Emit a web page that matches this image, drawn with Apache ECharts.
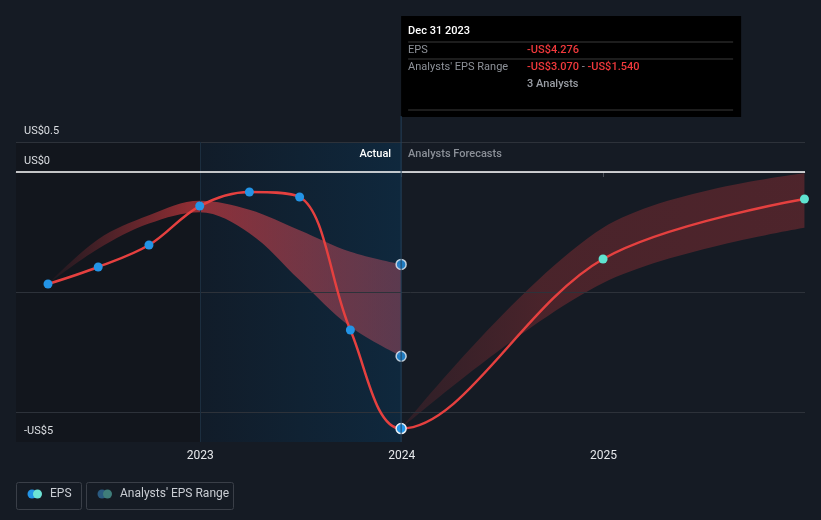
<!DOCTYPE html>
<html>
<head>
<meta charset="utf-8">
<script src="https://cdn.jsdelivr.net/npm/echarts@6/dist/echarts.min.js"></script>
<style>
  html, body { margin: 0; background: #151b24; }
  #chart { width: 821px; height: 520px; }
</style>
</head>
<body>
<div id="chart"></div>
<script>
// values
const actualDates = ['2022-03-31', '2022-06-30', '2022-09-30', '2022-12-31', '2023-03-31', '2023-06-30', '2023-09-30', '2023-12-31'];
const actualEps = [-1.867, -1.583, -1.217, -0.567, -0.333, -0.417, -2.633, -4.276];
const forecastDates = ['2024-12-31', '2025-12-31'];
const forecastEps = [-1.45, -0.45];

const pastRangeLow = [-1.867, -1.28, -0.86, -0.67, -1.02, -1.8, -2.58, -3.07];
const pastRangeHigh = [-1.867, -1.12, -0.72, -0.48, -0.63, -0.97, -1.33, -1.54];

const futureRangeDates = ['2023-12-31', '2024-12-31', '2025-12-31'];
const futureRangeLow = [-4.276, -1.85, -0.93];
const futureRangeHigh = [-4.276, -0.93, -0.02];

const yTickValues = [0.5, 0, -4.5];
const yTickLabels = ['US$0.5', 'US$0', '-US$5'];
const yearTicks = ['2023-01-01', '2024-01-01', '2025-01-01'];
const xMin = '2022-02-01';
const xMax = '2026-01-01';

const parse = d => echarts.time.parse(d).getTime();
const FONT = 'Roboto';
const SMOOTH = 0.35;

const chart = echarts.init(document.getElementById('chart'));

const lastActual = actualDates.length - 1;
const epsData = actualDates.map((d, i) => {
    const item = { value: [d, actualEps[i]], itemStyle: { color: '#2394e6' } };
    if (i === lastActual) {
        item.symbolSize = 10;
        item.itemStyle = { color: '#2394e6', borderColor: '#e8eef4', borderWidth: 1.5 };
    }
    return item;
}).concat(forecastDates.map((d, i) => ({ value: [d, forecastEps[i]], itemStyle: { color: '#5fe3d0' } })));

const option = {
    backgroundColor: '#151b24',
    animation: false,
    textStyle: { fontFamily: FONT },
    grid: { left: 16, right: 16, top: 142, bottom: 78 },
    xAxis: {
        type: 'time',
        min: parse(xMin),
        max: parse(xMax),
        axisLine: { lineStyle: { color: '#3a3f48', width: 1 } },
        axisTick: { show: true, customValues: yearTicks.map(parse), length: 5, lineStyle: { color: '#4a4f58' } },
        axisLabel: {
            customValues: yearTicks.map(parse),
            formatter: '{yyyy}',
            color: '#e6e8eb',
            fontSize: 12,
            fontFamily: FONT,
            margin: 8
        },
        splitLine: { show: false }
    },
    yAxis: {
        type: 'value',
        z: 10,
        min: -4.5,
        max: 0.5,
        axisLine: { show: false },
        axisTick: { show: false },
        splitLine: { show: false },
        axisLabel: {
            inside: true,
            customValues: yTickValues,
            formatter: v => {
                const i = yTickValues.findIndex(t => Math.abs(t - v) < 1e-9);
                return i >= 0 ? yTickLabels[i] : '';
            },
            verticalAlign: 'bottom',
            padding: [0, 0, 5, 0],
            margin: 8,
            color: '#dcdfe3',
            fontSize: 11,
            fontFamily: FONT
        }
    },
    series: [
        {
            // background regions + grid lines
            name: 'bg',
            type: 'line',
            z: 1,
            silent: true,
            data: actualDates.map((d, i) => [d, actualEps[i]]),
            symbol: 'none',
            lineStyle: { opacity: 0 },
            markArea: {
                silent: true,
                data: [
                    [{ xAxis: parse(xMin), itemStyle: { color: '#12161d' } }, { xAxis: parse('2023-01-01') }],
                    [{
                        xAxis: parse('2023-01-01'),
                        itemStyle: {
                            color: new echarts.graphic.LinearGradient(0, 0, 1, 0, [
                                { offset: 0, color: '#111c29' },
                                { offset: 1, color: '#0f283d' }
                            ])
                        }
                    }, { xAxis: parse('2023-12-31') }]
                ]
            },
            markLine: {
                silent: true,
                symbol: 'none',
                label: { show: false },
                lineStyle: { color: '#2d323a', type: 'solid', width: 1 },
                data: [
                    { yAxis: 0.5 },
                    { yAxis: -2 },
                    { yAxis: -4 },
                    { xAxis: parse('2023-01-01'), lineStyle: { color: '#1c2e3f' } }
                ]
            }
        },
        {
            name: 'pastLow',
            type: 'line',
            z: 2,
            stack: 'past',
            stackStrategy: 'all',
            smooth: SMOOTH,
            symbol: 'none',
            silent: true,
            lineStyle: { opacity: 0 },
            data: actualDates.map((d, i) => [d, pastRangeLow[i]])
        },
        {
            name: 'pastBand',
            type: 'line',
            z: 2,
            stack: 'past',
            stackStrategy: 'all',
            smooth: SMOOTH,
            symbol: 'none',
            silent: true,
            lineStyle: { opacity: 0 },
            areaStyle: {
                opacity: 1,
                color: new echarts.graphic.LinearGradient(0, 0, 1, 0, [
                    { offset: 0, color: 'rgba(220,60,65,0.05)' },
                    { offset: 0.4, color: 'rgba(220,60,65,0.62)' },
                    { offset: 1, color: 'rgba(205,85,105,0.4)' }
                ])
            },
            data: actualDates.map((d, i) => [d, +(pastRangeHigh[i] - pastRangeLow[i]).toFixed(3)])
        },
        {
            name: 'futureLow',
            type: 'line',
            z: 2,
            stack: 'future',
            stackStrategy: 'all',
            smooth: SMOOTH,
            symbol: 'none',
            silent: true,
            lineStyle: { opacity: 0 },
            data: futureRangeDates.map((d, i) => [d, futureRangeLow[i]])
        },
        {
            name: 'futureBand',
            type: 'line',
            z: 2,
            stack: 'future',
            stackStrategy: 'all',
            smooth: SMOOTH,
            symbol: 'none',
            silent: true,
            lineStyle: { opacity: 0 },
            areaStyle: {
                opacity: 1,
                color: new echarts.graphic.LinearGradient(0, 0, 1, 0, [
                    { offset: 0, color: 'rgba(225,60,62,0.12)' },
                    { offset: 0.35, color: 'rgba(225,60,62,0.26)' },
                    { offset: 1, color: 'rgba(225,60,62,0.28)' }
                ])
            },
            data: futureRangeDates.map((d, i) => [d, +(futureRangeHigh[i] - futureRangeLow[i]).toFixed(3)])
        },
        {
            name: 'zero',
            type: 'line',
            z: 3,
            silent: true,
            data: [],
            markLine: {
                silent: true,
                symbol: 'none',
                label: { show: false },
                lineStyle: { color: '#ffffff', type: 'solid', width: 1.5 },
                data: [{ yAxis: 0 }]
            }
        },
        {
            name: 'EPS',
            type: 'line',
            z: 5,
            smooth: SMOOTH,
            symbol: 'circle',
            symbolSize: 9,
            showAllSymbol: true,
            lineStyle: { color: '#e5403f', width: 2.5 },
            data: epsData
        },
        {
            name: 'rangeEnds',
            type: 'scatter',
            z: 6,
            symbolSize: 10,
            itemStyle: { color: '#2394e6', borderColor: '#e8eef4', borderWidth: 1.5 },
            data: [
                [actualDates[lastActual], pastRangeHigh[lastActual]],
                [actualDates[lastActual], pastRangeLow[lastActual]]
            ]
        }
    ]
};

chart.setOption(option);

// annotations: hover line, tooltip box, Actual / Forecast labels, legend
const [xLine, yTop] = chart.convertToPixel({ gridIndex: 0 }, [parse('2023-12-31'), 0.5]);
const yBottom = chart.convertToPixel({ gridIndex: 0 }, [parse('2023-12-31'), -4.5])[1];
const boxX = xLine;
const tipTop = 16;
const grey = '#8e9299';
const red = '#f0393c';

chart.setOption({
    graphic: [
        {
            type: 'line', z: 10, silent: true,
            shape: { x1: xLine, y1: tipTop + 100, x2: xLine, y2: yBottom },
            style: { stroke: '#23405a', lineWidth: 1 }
        },
        {
            type: 'text', z: 10, silent: true,
            style: { text: 'Actual', x: xLine - 10, y: yTop + 12, align: 'right', verticalAlign: 'middle',
                fill: '#ffffff', font: '500 11px Roboto' }
        },
        {
            type: 'text', z: 10, silent: true,
            style: { text: 'Analysts Forecasts', x: xLine + 7, y: yTop + 12, align: 'left', verticalAlign: 'middle',
                fill: '#8b9098', font: '500 11px Roboto' }
        },
        {
            type: 'group', z: 20, silent: true,
            children: [
                { type: 'rect', shape: { x: boxX, y: tipTop, width: 340, height: 101 }, style: { fill: '#000000' } },
                { type: 'text', style: { text: 'Dec 31 2023', x: boxX + 7, y: tipTop + 15, verticalAlign: 'middle', fill: '#ffffff', font: '500 11px Roboto' } },
                { type: 'line', shape: { x1: boxX + 7, y1: tipTop + 26, x2: boxX + 332, y2: tipTop + 26 }, style: { stroke: '#3b3b3b', lineWidth: 1 } },
                { type: 'text', style: { text: 'EPS', x: boxX + 7, y: tipTop + 34, verticalAlign: 'middle', fill: grey, font: '11px Roboto' } },
                { type: 'text', style: { text: '-US$4.276', x: boxX + 126, y: tipTop + 34, verticalAlign: 'middle', fill: red, font: '500 11px Roboto' } },
                { type: 'line', shape: { x1: boxX + 7, y1: tipTop + 43, x2: boxX + 332, y2: tipTop + 43 }, style: { stroke: '#3b3b3b', lineWidth: 1 } },
                { type: 'text', style: { text: "Analysts' EPS Range", x: boxX + 7, y: tipTop + 51, verticalAlign: 'middle', fill: grey, font: '11px Roboto' } },
                {
                    type: 'text',
                    style: {
                        text: '{r|-US$3.070}{g| - }{r|-US$1.540}', x: boxX + 126, y: tipTop + 51, verticalAlign: 'middle',
                        rich: {
                            r: { fill: red, fontFamily: FONT, fontSize: 11, fontWeight: 500 },
                            g: { fill: grey, fontFamily: FONT, fontSize: 11 }
                        }
                    }
                },
                { type: 'text', style: { text: '3 Analysts', x: boxX + 126, y: tipTop + 68, verticalAlign: 'middle', fill: '#9a9ea5', font: '500 11px Roboto' } },
                { type: 'line', shape: { x1: boxX + 7, y1: tipTop + 94, x2: boxX + 332, y2: tipTop + 94 }, style: { stroke: '#3b3b3b', lineWidth: 1 } }
            ]
        },
        {
            type: 'group', z: 20, silent: true,
            children: [
                { type: 'rect', shape: { x: 16.5, y: 482.5, width: 65, height: 27, r: 2 }, style: { fill: 'transparent', stroke: '#3a3f48', lineWidth: 1 } },
                { type: 'circle', shape: { cx: 32, cy: 494, r: 4.5 }, style: { fill: '#2394e6' } },
                { type: 'circle', shape: { cx: 37.5, cy: 494, r: 4.5 }, style: { fill: '#6de3d5' } },
                { type: 'text', style: { text: 'EPS', x: 50, y: 494, verticalAlign: 'middle', fill: '#c9cdd3', font: '12px Roboto' } },
                { type: 'rect', shape: { x: 86.5, y: 482.5, width: 147, height: 27, r: 2 }, style: { fill: 'transparent', stroke: '#3a3f48', lineWidth: 1 } },
                { type: 'circle', shape: { cx: 102, cy: 494, r: 4.5 }, style: { fill: '#2a5a80' } },
                { type: 'circle', shape: { cx: 107.5, cy: 494, r: 4.5 }, style: { fill: '#3f7d7a' } },
                { type: 'text', style: { text: "Analysts' EPS Range", x: 120, y: 494, verticalAlign: 'middle', fill: '#c9cdd3', font: '12px Roboto' } }
            ]
        }
    ]
});
</script>
</body>
</html>
